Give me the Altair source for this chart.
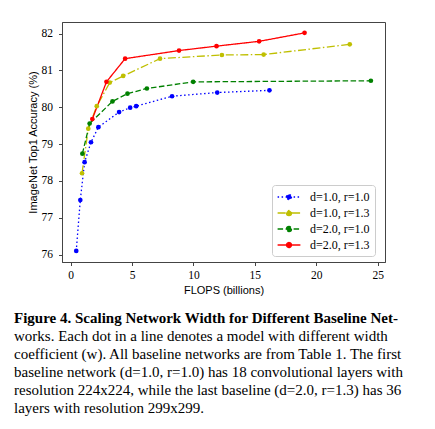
import altair as alt
import pandas as pd

# FLOPS (billions) and top-1 accuracy
b_flops = [0.46, 0.79, 1.14, 1.66, 2.26, 3.95, 4.85, 5.34, 8.26, 11.94, 16.19]
b_acc = [76.10, 77.48, 78.51, 79.05, 79.46, 79.87, 79.99, 80.03, 80.30, 80.40, 80.46]

y_flops = [0.93, 1.44, 2.13, 3.19, 4.28, 7.28, 12.32, 15.72, 22.73]
y_acc = [78.21, 79.42, 80.03, 80.67, 80.85, 81.32, 81.42, 81.43, 81.71]

g_flops = [0.96, 1.55, 3.41, 4.63, 6.21, 9.98, 24.45]
g_acc = [78.74, 79.56, 80.16, 80.37, 80.51, 80.69, 80.72]

r_flops = [1.77, 2.92, 4.44, 8.83, 11.88, 15.35, 19.05]
r_acc = [79.68, 80.69, 81.32, 81.54, 81.66, 81.79, 82.02]

labels = ["d=1.0, r=1.0", "d=1.0, r=1.3", "d=2.0, r=1.0", "d=2.0, r=1.3"]
colors = ["#0000ff", "#bfbf00", "#008000", "#ff0000"]
dashes = [[1.5, 2.5], [8, 2.5, 1.5, 2.5], [5.5, 2.5], [1, 0]]

frames = []
for i, (fx, ay) in enumerate(
    [(b_flops, b_acc), (y_flops, y_acc), (g_flops, g_acc), (r_flops, r_acc)]
):
    frames.append(pd.DataFrame({"flops": fx, "acc": ay, "base": labels[i], "order": i}))
df = pd.concat(frames, ignore_index=True)

caption_head = "Figure 4. Scaling Network Width for Different Baseline Net-"
caption_rest = [
    "works. Each dot in a line denotes a model with different width",
    "coefficient (w). All baseline networks are from Table 1. The first",
    "baseline network (d=1.0, r=1.0) has 18 convolutional layers with",
    "resolution 224x224, while the last baseline (d=2.0, r=1.3) has 36",
    "layers with resolution 299x299.",
]

# line with a dot in the middle, for the legend (drawn wider than its nominal size)
sym = "M-1.9,0L1.9,0M0.42,0A0.42,0.42,0,1,1,-0.42,0A0.42,0.42,0,1,1,0.42,0Z"

color = alt.Color(
    "base:N",
    scale=alt.Scale(domain=labels, range=colors),
    legend=alt.Legend(
        title=None,
        orient="none",
        legendX=210,
        legendY=163,
        symbolType=sym,
        symbolSize=144,
        symbolOffset=5,
        symbolStrokeWidth=1.3,
        labelFont="Liberation Serif",
        labelFontSize=12,
        labelColor="#000",
        labelOffset=14,
        rowPadding=3,
        padding=5,
        strokeColor="#cccccc",
        fillColor="white",
        cornerRadius=3,
    ),
)
dash = alt.StrokeDash(
    "base:N", scale=alt.Scale(domain=labels, range=dashes), legend=None
)

x = alt.X(
    "flops:Q",
    title="FLOPS (billions)",
    scale=alt.Scale(domain=[-0.7, 25.6], nice=False, zero=False),
    axis=alt.Axis(values=[0, 5, 10, 15, 20, 25]),
)
y = alt.Y(
    "acc:Q",
    title="ImageNet Top1 Accuracy (%)",
    scale=alt.Scale(domain=[75.8, 82.315], nice=False, zero=False),
    axis=alt.Axis(values=[76, 77, 78, 79, 80, 81, 82]),
)

base = alt.Chart(df)
lines = base.mark_line(strokeWidth=1.3).encode(
    x=x, y=y, color=color, strokeDash=dash, detail="base:N", order="flops:Q"
)
points = base.mark_circle(size=22, opacity=1).encode(
    x=x, y=y, color=alt.Color("base:N", scale=alt.Scale(domain=labels, range=colors), legend=None)
)

chart = (
    alt.layer(lines, points)
    .properties(
        width=323,
        height=240,
        padding={"left": 54, "top": 14, "right": 30, "bottom": 159},
        autosize=alt.AutoSizeParams(type="none"),
        title=alt.TitleParams(
            text=caption_head,
            subtitle=caption_rest,
            orient="bottom",
            anchor="start",
            frame="group",
            dx=-48,
            offset=16,
            font="Liberation Serif",
            fontSize=15,
            fontWeight="bold",
            color="#000",
            lineHeight=18,
            subtitleFont="Liberation Serif",
            subtitleFontSize=15,
            subtitleColor="#000",
            subtitleLineHeight=18,
            subtitlePadding=3,
        ),
    )
    .configure_view(stroke="#444", strokeWidth=1)
    .configure_axis(
        grid=False,
        domainColor="#444",
        tickColor="#444",
        tickSize=3.5,
        labelFont="Liberation Serif",
        labelFontSize=11.5,
        labelColor="#000",
        titleFont="Liberation Sans",
        titleFontSize=11,
        titleFontWeight="normal",
        titleColor="#000",
    )
    .configure_axisX(labelPadding=4, titlePadding=3)
    .configure_axisY(labelPadding=6, titlePadding=3)
)

chart.save("out.html", embed_options={"renderer": "svg", "actions": False})
